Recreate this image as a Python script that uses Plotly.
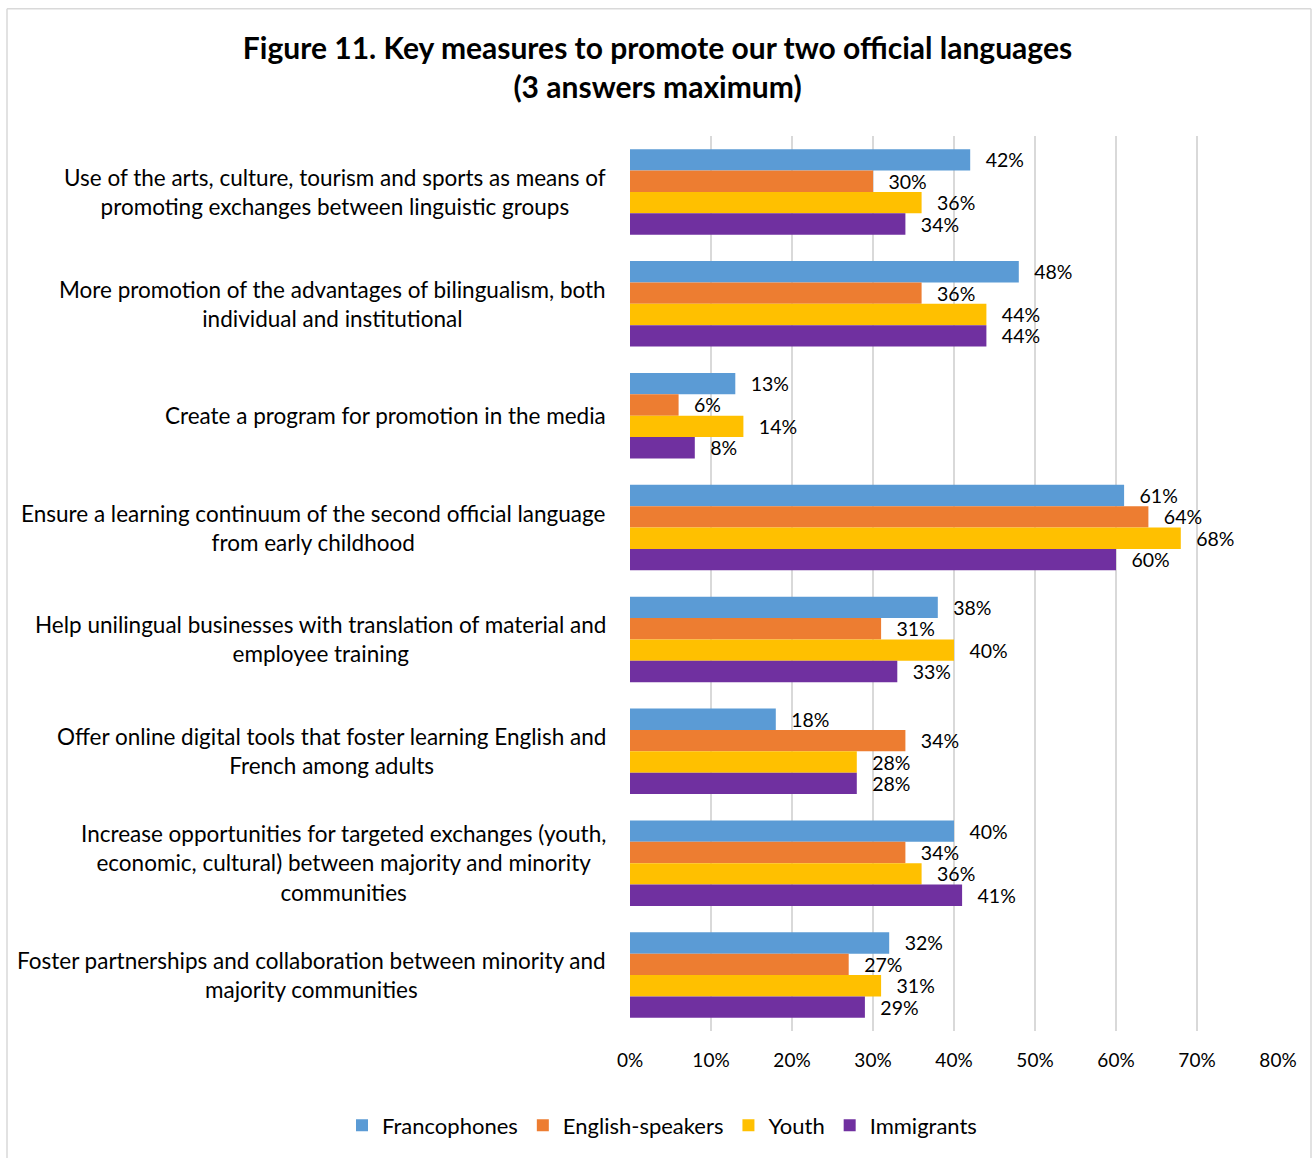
import plotly.graph_objects as go

# Survey measures (top to bottom) and share of respondents choosing each
measures = [
    "Use of the arts, culture, tourism and sports as means of<br>promoting exchanges between linguistic groups",
    "More promotion of the advantages of bilingualism, both<br>individual and institutional",
    "Create a program for promotion in the media",
    "Ensure a learning continuum of the second official language<br>from early childhood",
    "Help unilingual businesses with translation of material and<br>employee training",
    "Offer online digital tools that foster learning English and<br>French among adults",
    "Increase opportunities for targeted exchanges (youth,<br>economic, cultural) between majority and minority<br>communities",
    "Foster partnerships and collaboration between minority and<br>majority communities",
]

francophones = [42, 48, 13, 61, 38, 18, 40, 32]
english_speakers = [30, 36, 6, 64, 31, 34, 34, 27]
youth = [36, 44, 14, 68, 40, 28, 36, 31]
immigrants = [34, 44, 8, 60, 33, 28, 41, 29]

x_ticks = [0, 10, 20, 30, 40, 50, 60, 70, 80]

series = [
    ("Francophones", francophones, "#5B9BD5"),
    ("English-speakers", english_speakers, "#ED7D31"),
    ("Youth", youth, "#FFC000"),
    ("Immigrants", immigrants, "#7030A0"),
]

FONT = "Lato"
TEXT_COLOR = "#000000"
W, H = 1315, 1158
M_L, M_R, M_T, M_B = 630, 37, 136, 122
PLOT_W = W - M_L - M_R
PLOT_H = H - M_T - M_B


def px_to_paper_x(px):
    return (px - M_L) / PLOT_W


def px_to_paper_y(py):
    return (M_T + PLOT_H - py) / PLOT_H


fig = go.Figure()
pad = "\u00a0\u00a0\u2009"
for name, vals, color in series:
    fig.add_trace(go.Bar(
        y=measures,
        x=vals,
        name=name,
        orientation="h",
        marker=dict(color=color, line=dict(width=0)),
        text=[pad + f"{v}%" for v in vals],
        textposition="outside",
        textfont=dict(family=FONT, size=19.5, color=TEXT_COLOR),
        constraintext="none",
        cliponaxis=False,
        hoverinfo="skip",
    ))

# Category labels: centred lines, block right-aligned just left of the axis
annotations = [
    dict(
        x=px_to_paper_x(608), xref="paper", xanchor="right",
        y=cat, yref="y", yanchor="middle",
        text=cat, align="center", showarrow=False,
        font=dict(family=FONT, size=22.5, color=TEXT_COLOR),
    )
    for cat in measures
]
fig.update_layout(annotations=annotations)

# Light chart frame: top, left and right edges (bottom runs past the page)
frame = dict(color="#d9d9d9", width=1.5)
left, right = px_to_paper_x(7), px_to_paper_x(1311)
top, bottom = px_to_paper_y(8), px_to_paper_y(H + 20)
for x0, y0, x1, y1 in [(left, top, right, top), (left, top, left, bottom), (right, top, right, bottom)]:
    fig.add_shape(type="line", xref="paper", yref="paper",
                  x0=x0, y0=y0, x1=x1, y1=y1, line=frame, layer="below")

fig.update_layout(
    width=W, height=H,
    margin=dict(l=M_L, r=M_R, t=M_T, b=M_B),
    paper_bgcolor="white", plot_bgcolor="white",
    barmode="group", bargap=0.235, bargroupgap=0,
    title=dict(
        text="<b>Figure 11. Key measures to promote our two official languages<br>(3 answers maximum)</b>",
        x=0.5, xref="container", xanchor="center",
        y=1 - 59 / H, yref="container", yanchor="middle",
        font=dict(family=FONT, size=30, color=TEXT_COLOR),
    ),
    xaxis=dict(
        range=[0, 80], tickvals=x_ticks, ticktext=[f"{v}%" for v in x_ticks],
        showgrid=True, gridcolor="#d9d9d9", gridwidth=1.5,
        zeroline=False, showline=False, ticks="",
        tickfont=dict(family=FONT, size=19, color=TEXT_COLOR),
        ticklabelstandoff=16,
        fixedrange=True,
    ),
    yaxis=dict(
        autorange="reversed", showticklabels=False, showgrid=False,
        zeroline=False, showline=False, ticks="", fixedrange=True,
    ),
    legend=dict(
        orientation="h", x=px_to_paper_x(662), xanchor="center",
        y=px_to_paper_y(1131), yanchor="middle",
        font=dict(family=FONT, size=22, color=TEXT_COLOR),
        traceorder="normal", itemwidth=30,
    ),
    showlegend=True,
)

fig.write_html("out.html")
